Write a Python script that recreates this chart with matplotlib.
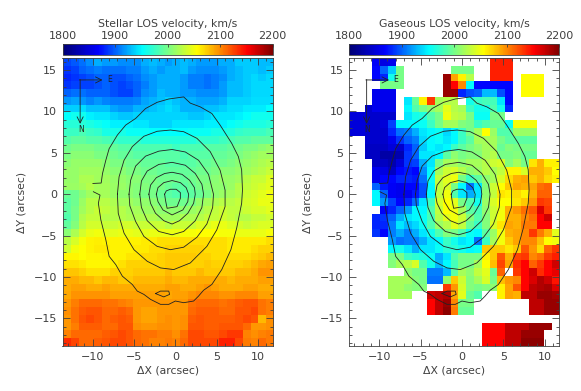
import matplotlib
matplotlib.use('Agg')
import matplotlib.pyplot as plt
import numpy as np
from matplotlib.colors import LinearSegmentedColormap
from matplotlib.ticker import MultipleLocator

n = np.nan

stellar = [
    [1892,1897,1905,1915,1925,1920,1920,1915,1915,1915,1925,1930,1925,1920,1925,1930,1925,1920,1920,1920,1925,1925,1935,1935,1935,1930,1930],
    [1885,1890,1900,1905,1910,1905,1905,1905,1910,1910,1920,1925,1920,1925,1925,1930,1920,1915,1915,1915,1920,1925,1930,1935,1935,1930,1935],
    [1880,1885,1890,1895,1900,1900,1895,1895,1900,1905,1915,1920,1925,1925,1925,1920,1910,1910,1905,1910,1915,1925,1930,1935,1940,1935,1940],
    [1885,1890,1890,1890,1895,1900,1895,1890,1895,1900,1910,1920,1925,1925,1925,1920,1910,1910,1905,1910,1920,1930,1930,1935,1940,1940,1940],
    [1900,1905,1905,1900,1900,1900,1895,1890,1890,1900,1915,1920,1930,1925,1925,1920,1920,1915,1915,1915,1920,1930,1930,1935,1940,1940,1940],
    [1918,1922,1918,1912,1918,1912,1908,1908,1908,1912,1922,1928,1932,1938,1932,1928,1928,1922,1922,1922,1928,1938,1938,1938,1942,1942,1942],
    [1936,1936,1942,1932,1932,1932,1922,1918,1918,1928,1928,1932,1936,1942,1936,1928,1928,1928,1932,1932,1936,1942,1942,1946,1946,1946,1952],
    [1952,1958,1958,1948,1944,1944,1938,1934,1934,1938,1938,1938,1938,1938,1938,1938,1934,1934,1938,1944,1944,1944,1948,1952,1958,1958,1958],
    [1968,1968,1968,1964,1958,1954,1948,1948,1948,1944,1944,1938,1938,1938,1944,1944,1944,1944,1948,1948,1948,1954,1958,1964,1964,1964,1968],
    [1976,1976,1982,1976,1972,1962,1962,1962,1956,1956,1956,1952,1952,1952,1952,1952,1956,1956,1956,1962,1962,1966,1972,1976,1976,1976,1982],
    [1987,1992,1992,1987,1987,1982,1977,1972,1972,1972,1967,1967,1967,1967,1967,1967,1967,1972,1972,1972,1977,1982,1987,1987,1992,1992,1992],
    [1998,2003,2003,2003,1998,1998,1993,1988,1988,1983,1983,1983,1983,1983,1978,1983,1983,1983,1988,1988,1988,1993,1998,2003,2003,2008,2013],
    [2003,2008,2008,2008,2003,2003,1998,1993,1993,1988,1988,1988,1988,1988,1988,1983,1988,1988,1988,1993,1993,1998,2003,2008,2013,2018,2018],
    [2008,2013,2013,2013,2013,2008,2003,2003,1998,1998,1993,1993,1993,1988,1988,1988,1988,1993,1993,1998,1998,2003,2008,2013,2018,2023,2028],
    [2013,2013,2018,2018,2018,2013,2008,2008,2003,2003,1998,1998,1993,1993,1993,1993,1993,1998,1998,2003,2008,2008,2013,2018,2023,2028,2033],
    [2013,2013,2023,2023,2018,2018,2013,2013,2008,2008,2003,2003,1998,1998,1998,1993,1998,2003,2003,2008,2013,2013,2018,2028,2033,2033,2043],
    [2015,2015,2020,2025,2020,2020,2015,2015,2010,2005,2005,2000,2000,1995,1990,1990,1995,2000,2005,2010,2010,2015,2025,2030,2035,2040,2045],
    [1995,1998,2008,2018,2020,2020,2015,2010,2010,2005,2000,2000,1995,1990,1985,1985,1990,1995,2000,2010,2015,2020,2025,2035,2040,2045,2050],
    [1990,1998,2015,2028,2028,2028,2022,2018,2018,2012,2012,2008,2002,1998,1998,1998,2002,2012,2018,2022,2028,2028,2032,2038,2042,2048,2048],
    [1990,2000,2018,2028,2033,2030,2025,2025,2020,2020,2015,2015,2010,2010,2010,2010,2015,2020,2025,2030,2035,2030,2030,2035,2040,2040,2045],
    [1985,2000,2024,2032,2032,2026,2026,2026,2022,2022,2022,2022,2016,2016,2016,2022,2022,2026,2032,2032,2036,2032,2026,2026,2032,2032,2036],
    [1992,2006,2028,2038,2038,2034,2034,2038,2038,2034,2034,2034,2034,2028,2034,2034,2034,2042,2042,2048,2048,2042,2038,2034,2038,2042,2042],
    [2008,2022,2038,2048,2050,2044,2044,2048,2048,2044,2044,2048,2048,2048,2048,2052,2052,2056,2056,2056,2052,2052,2048,2048,2048,2048,2052],
    [2028,2040,2052,2060,2062,2060,2060,2060,2060,2060,2064,2064,2068,2068,2068,2068,2068,2068,2068,2068,2068,2064,2064,2064,2064,2064,2068],
    [2035,2050,2055,2060,2064,2064,2060,2060,2060,2064,2064,2068,2068,2072,2072,2072,2072,2072,2068,2068,2068,2064,2064,2064,2068,2072,2072],
    [2058,2058,2056,2058,2058,2060,2060,2060,2065,2065,2070,2070,2072,2076,2076,2076,2076,2072,2072,2068,2068,2068,2068,2068,2072,2076,2082],
    [2066,2066,2064,2058,2058,2058,2062,2066,2072,2072,2072,2072,2072,2076,2076,2076,2072,2072,2076,2072,2072,2072,2072,2076,2082,2088,2092],
    [2078,2078,2072,2066,2066,2066,2072,2072,2072,2076,2076,2076,2076,2082,2076,2076,2076,2082,2076,2076,2076,2076,2082,2082,2086,2096,2096],
    [2086,2086,2082,2082,2076,2082,2082,2076,2076,2082,2082,2082,2082,2086,2082,2082,2086,2086,2086,2086,2086,2082,2086,2086,2086,2092,2092],
    [2086,2092,2092,2086,2086,2092,2086,2086,2086,2086,2086,2086,2086,2092,2092,2086,2086,2092,2096,2092,2086,2086,2086,2092,2092,2086,2086],
    [2088,2096,2096,2096,2096,2096,2092,2092,2092,2092,2092,2092,2092,2088,2092,2092,2096,2100,2100,2100,2096,2096,2100,2100,2100,2092,2092],
    [2094,2104,2112,2112,2112,2108,2108,2104,2100,2094,2094,2094,2094,2094,2094,2094,2108,2112,2112,2112,2108,2112,2116,2120,2120,2108,2104],
    [2098,2108,2116,2120,2120,2112,2112,2116,2112,2094,2090,2090,2094,2094,2094,2094,2112,2116,2116,2116,2112,2112,2120,2120,2124,2108,2104],
    [2094,2108,2120,2124,2120,2112,2116,2120,2116,2094,2090,2090,2094,2098,2094,2098,2116,2120,2116,2116,2116,2116,2120,2124,2120,2082,2098],
    [2094,2104,2116,2116,2116,2112,2112,2120,2120,2098,2094,2094,2098,2098,2094,2098,2120,2120,2116,2116,2120,2120,2120,2112,2094,2094,2098],
    [2102,2112,2112,2112,2112,2116,2120,2124,2120,2112,2108,2108,2104,2104,2098,2108,2124,2124,2120,2120,2124,2130,2130,2102,2098,2102,2106],
    [2135,2125,2112,2112,2116,2120,2124,2124,2120,2112,2108,2102,2102,2106,2102,2112,2124,2124,2124,2124,2140,2140,2124,2106,2102,2112,2106],
]

gas = [
    [n,n,n,1865,1855,1860,n,n,n,n,n,n,n,n,n,n,n,n,2140,2140,2140,n,n,n,n,n,n],
    [n,n,n,1870,1900,1935,2000,n,n,n,n,n,n,2000,2000,2000,n,n,2140,2140,2140,n,n,n,n,n,n],
    [n,n,n,1870,1880,1960,2000,n,n,n,n,n,2190,2090,2060,2025,n,n,2140,2140,2140,n,2056,2056,2056,n,n],
    [n,n,n,n,2000,2000,2000,n,n,n,n,n,2190,2150,2100,1950,1870,1870,1870,1870,1870,n,2056,2056,2056,n,n],
    [n,n,n,1860,1860,1860,n,n,n,n,n,n,2190,2190,1880,1895,1900,1930,1930,1895,1870,n,2056,2056,2056,n,n],
    [n,n,n,1860,1860,1860,n,1945,1995,2060,2130,2020,2025,2025,n,1960,1975,1980,1980,1945,1870,n,n,n,n,n,n],
    [n,n,1845,1860,1860,1860,n,1950,1985,2000,2010,2020,2045,2025,2020,1975,1960,1960,1985,1960,1880,n,n,n,n,n,n],
    [1850,1850,1845,1845,1845,1845,n,1945,1960,1965,1985,2000,2050,2030,2025,2000,1955,1955,2000,2000,n,n,n,n,n,n,n],
    [1850,1850,1845,1845,1850,1890,1950,1950,1950,1955,1975,2000,2020,2020,2005,2000,1975,1985,1995,1995,1955,2052,2052,2052,n,n,n],
    [1850,1850,1845,1845,1845,1880,1905,1910,1925,1945,1950,1955,1940,1950,1975,2000,2020,2055,2015,1985,1985,2015,2015,2015,n,n,n],
    [n,n,1845,1845,1845,1860,1885,1900,1910,1940,1950,1955,1945,1950,1975,1990,2020,2020,2020,2000,1990,1990,1990,1990,n,n,n],
    [n,n,1840,1840,1840,1850,1845,1880,1900,1935,1950,1945,1950,1975,1990,2000,2010,2020,2020,1995,2005,2000,2000,2000,n,n,n],
    [n,n,1840,1840,1825,1825,1830,1885,1900,1945,1945,1950,1990,2010,2000,2005,2005,2020,2025,2000,2000,2005,1995,1995,n,n,n],
    [n,n,n,1840,1840,1830,1850,1885,1890,1925,1945,2000,2020,2020,2010,2020,2020,2025,2035,2040,2005,2020,2000,2065,2085,2060,2060],
    [n,n,n,1860,1855,1840,1870,1875,1870,1915,1950,2020,2035,2040,2025,2010,2015,2025,2020,2030,2060,2060,2040,2085,2085,2075,2055],
    [n,n,n,1860,1870,1870,1880,1880,1875,1905,1955,2030,2045,2050,2000,1975,1990,2010,2020,2040,2070,2085,2090,2075,2085,2070,2060],
    [n,n,n,1900,1875,1865,1860,1870,1870,1895,1950,2030,2040,2000,1950,1905,1945,2005,2035,2055,2075,2090,2085,2090,2110,2115,n],
    [n,n,n,1950,1900,1865,1860,1860,1875,1895,1950,2030,2050,1985,1945,1925,1945,2010,2030,2065,2060,2070,2060,2085,2115,2115,n],
    [n,n,n,1950,1920,1890,1870,1880,1905,1945,1975,2040,2055,2045,2000,1985,1960,2015,2040,2055,2055,2065,2075,2095,2130,2125,n],
    [n,n,n,n,1865,1880,1900,1920,1950,1950,1985,2030,2055,2050,2020,1990,1980,2010,2035,2050,2085,2095,2110,2120,2165,2130,n],
    [n,n,n,1880,1885,1900,1925,1945,1950,1955,1980,2025,2045,2050,2035,2005,1985,2005,2035,2050,2085,2085,2100,2110,2150,2170,n],
    [n,n,n,1880,1880,1910,1945,1930,1940,1955,1985,2015,2025,2045,2030,1995,1975,2005,2040,2065,2090,2085,2105,2105,2150,2150,n],
    [n,n,n,1885,1870,1910,1925,1910,1925,1945,1960,1985,2005,2000,1985,1955,1950,1990,2015,2050,2085,2090,2100,2130,2105,2085,2045],
    [n,n,n,n,n,1920,1905,1910,1910,1925,1945,1950,1975,1960,1945,1950,1905,1975,2020,2050,2075,2090,2100,2100,2080,2055,2050],
    [n,n,n,n,n,1950,1960,1945,1925,1945,1945,1955,1970,1970,1960,1950,1955,2075,2075,2075,2065,2075,2120,2095,2070,2115,2130],
    [n,n,n,n,n,2000,2000,1975,1970,1965,1955,1925,1945,1985,2000,2000,2000,2060,2075,2120,2085,2125,2130,2100,2110,2130,2140],
    [n,n,n,n,n,2005,2020,2025,2040,1985,1960,1930,1950,1980,2000,2000,2020,2055,2080,2125,2090,2135,2150,2115,2130,2150,2170],
    [n,n,n,n,n,n,n,2010,2000,2000,1910,1910,1930,1990,2020,2010,2030,2045,1995,2115,n,2130,2150,2170,2135,2150,2160],
    [n,n,n,n,n,2020,2020,2020,2005,2000,1905,1905,2010,2075,2035,2005,2020,2040,2000,2080,2095,2100,2150,2165,2180,2170,2145],
    [n,n,n,n,n,2020,2020,2010,2005,2005,n,n,2130,2095,2040,2005,2000,2005,2010,2060,2090,2120,2150,2175,2180,2185,2165],
    [n,n,n,n,n,2020,2020,2020,n,n,2170,2175,2180,2090,2045,1995,1985,n,n,2060,2090,2085,2175,2175,2190,2190,2185],
    [n,n,n,n,n,n,n,n,n,n,2150,2175,2190,2100,2000,2000,n,n,n,n,n,n,n,2175,2175,2190,2190],
    [n,n,n,n,n,n,n,n,n,n,2150,2175,2195,2105,1995,1995,n,n,n,n,n,n,n,2175,2175,2190,2190],
    [n,n,n,n,n,n,n,n,n,n,n,n,n,n,n,n,n,n,n,n,n,n,n,n,n,n,n],
    [n,n,n,n,n,n,n,n,n,n,n,n,n,n,n,n,n,2150,2150,2150,2175,2175,2175,2190,2190,2190,n],
    [n,n,n,n,n,n,n,n,n,n,n,n,n,n,n,n,n,2150,2150,2150,2175,2175,2190,2190,2190,n,n],
    [n,n,n,n,n,n,n,n,n,n,n,n,n,n,n,n,n,2150,2150,2150,2175,2175,2195,2195,2195,n,n],
]

# isophotes, same on both panels
iso_1x = [-9.96,-8.96,-8.8,-8.4,-8.0,-7.0,-6.0,-4.8,-3.6,-2.2,-0.8,1.0,1.8,3.0,4.4,5.4,6.8,7.6,8.0,8.1,8.0,7.4,6.7,5.6,4.4,3.4,2.8,2.2,1.0,0,-0.8,-1.8,-3,-3.8,-4.6,-5.2,-6.4,-7.2,-8,-8.4,-9,-9.3,-9.1,-9.9]
iso_1y = [1.3,1.35,2.5,4.1,5.5,7.15,8.35,9.15,10.35,11.1,11.5,11.75,11.0,10.55,9.75,8.35,6.15,4.55,2.95,0.5,-1.1,-4.1,-6.7,-9.1,-10.9,-11.6,-12.3,-12.9,-13.1,-12.9,-13.3,-13.3,-12.7,-12.1,-11.7,-10.9,-9.9,-8.5,-7.5,-5.5,-3.1,-1.1,-0.1,0.3]
iso_2x = [-7,-6.8,-6.2,-5.2,-3.8,-2.2,-0.6,1,2.6,4.2,5.4,6.0,6.0,5,3.8,1.8,-0.2,-1.8,-3.4,-5,-6.2,-6.9,-7]
iso_2y = [0,2.1,4.1,5.75,7.0,7.6,7.75,7.55,6.75,5.15,2.9,0.5,-1.5,-4.3,-6.3,-8.3,-9.1,-8.9,-8.1,-6.7,-4.7,-2.3,0]
iso_3x = [-5.6,-5.4,-4.8,-3.6,-2,-0.4,1.2,2.8,4,4.6,4.5,3.8,2.6,1,-0.6,-2.2,-3.8,-4.8,-5.5,-5.6]
iso_3y = [0,1.7,3.4,4.6,5.2,5.4,5.1,4.1,2.4,0,-1.6,-3.6,-5.2,-6.4,-6.7,-6.3,-5.1,-3.3,-1.4,0]
iso_4x = [-4.3,-4.1,-3.4,-2,-0.4,1.2,2.4,3.2,3.4,3.2,2.4,1,-0.4,-2,-3.4,-4.1,-4.3]
iso_4y = [0,1.6,2.8,3.6,3.85,3.5,2.5,1.2,0,-1.6,-3.2,-4.5,-4.9,-4.5,-3.2,-1.6,0]
iso_5x = [-3.2,-3,-2.3,-1.3,-0.4,0.8,1.7,2.3,2.4,2.2,1.5,0.5,-0.4,-1.4,-2.4,-3,-3.2]
iso_5y = [0,1.1,2,2.5,2.65,2.4,1.7,0.8,0,-1.1,-2.3,-3.2,-3.6,-3.2,-2.3,-1.1,0]
iso_6x = [-2.3,-2.1,-1.4,-0.4,0.6,1.3,1.6,1.5,0.9,-0.4,-1.5,-2.1,-2.3]
iso_6y = [0,0.8,1.4,1.65,1.4,0.8,0,-0.9,-1.9,-2.5,-1.9,-0.9,0]
iso_7x = [-1.3,-1.1,-0.6,0.1,0.6,0.6,0.2,-1,-1.2,-1.3]
iso_7y = [0,0.4,0.6,0.6,0.2,-0.5,-1.5,-1.7,-0.7,0]
iso_8x = [-2.4,-1.8,-0.8,-0.7,-1.4,-2.4]
iso_8y = [-12.0,-11.7,-11.7,-12.1,-12.4,-12.0]
isophotes = [(iso_1x,iso_1y),(iso_2x,iso_2y),(iso_3x,iso_3y),(iso_4x,iso_4y),(iso_5x,iso_5y),(iso_6x,iso_6y),(iso_7x,iso_7y),(iso_8x,iso_8y)]

titles = ['Stellar LOS velocity, km/s', 'Gaseous LOS velocity, km/s']
extent = [-13.63, 11.75, -18.33, 16.45]

cmap = LinearSegmentedColormap.from_list('idl', [
    (0.0, (0, 0, 0.45)), (0.17, (0, 0, 1)), (0.38, (0, 1, 1)), (0.51, (0.5, 1, 0.5)),
    (0.64, (1, 1, 0)), (0.88, (1, 0, 0)), (1.0, (0.5, 0, 0))])
cmap.set_bad('white')

W, H = 581, 391
fig = plt.figure(figsize=(W / 100, H / 100), dpi=100)
plt.rcParams['font.family'] = 'DejaVu Sans'
ink = '#404040'

for data, title, x0, x1 in zip([stellar, gas], titles, [62.5, 349], [272.7, 559.3]):
    ax = fig.add_axes([x0 / W, 1 - 346 / H, (x1 - x0) / W, 288 / H])
    im = ax.imshow(np.array(data, dtype=float), cmap=cmap, vmin=1800, vmax=2200,
                   extent=extent, aspect='auto', interpolation='nearest')
    for xs, ys in isophotes:
        ax.plot(xs, ys, color='#222222', lw=0.6)
    ax.annotate('', xy=(-8.8, 13.8), xytext=(-11.6, 13.8),
                arrowprops=dict(arrowstyle='->', lw=0.6, color='#222222', mutation_scale=11, shrinkA=0, shrinkB=0))
    ax.annotate('', xy=(-11.5, 8.5), xytext=(-11.5, 13.85),
                arrowprops=dict(arrowstyle='->', lw=0.6, color='#222222', mutation_scale=11, shrinkA=0, shrinkB=0))
    ax.text(-8.0, 13.8, 'E', fontsize=5.5, ha='center', va='center', color='#222222')
    ax.text(-11.4, 7.8, 'N', fontsize=5.5, ha='center', va='center', color='#222222')
    ax.set_xlim(extent[0], extent[1])
    ax.set_ylim(extent[2], extent[3])
    ax.xaxis.set_major_locator(MultipleLocator(5))
    ax.yaxis.set_major_locator(MultipleLocator(5))
    ax.xaxis.set_minor_locator(MultipleLocator(1))
    ax.yaxis.set_minor_locator(MultipleLocator(1))
    ax.tick_params(which='major', direction='in', top=True, right=True, length=5, width=0.6, labelsize=8, color=ink, labelcolor=ink, pad=4)
    ax.tick_params(which='minor', direction='in', top=True, right=True, length=2.2, width=0.6, color=ink)
    ax.set_xlabel('ΔX (arcsec)', fontsize=7.8, color=ink, labelpad=3)
    ax.set_ylabel('ΔY (arcsec)', fontsize=7.8, color=ink)
    ax.yaxis.set_label_coords(-36 / (x1 - x0), 0.5)
    for s in ax.spines.values():
        s.set_linewidth(0.6)
        s.set_color(ink)

    cax = fig.add_axes([x0 / W, 1 - 55 / H, (x1 - x0) / W, 11 / H])
    cb = fig.colorbar(im, cax=cax, orientation='horizontal')
    cb.set_ticks([1800, 1900, 2000, 2100, 2200])
    cax.xaxis.set_ticks_position('top')
    cax.tick_params(direction='in', length=2, width=0.6, labelsize=8, color=ink, labelcolor=ink, pad=2)
    cb.outline.set_linewidth(0.6)
    cb.outline.set_edgecolor(ink)
    cax.set_title(title, fontsize=7.8, color=ink, pad=12)

fig.savefig('out.png', dpi=100)
